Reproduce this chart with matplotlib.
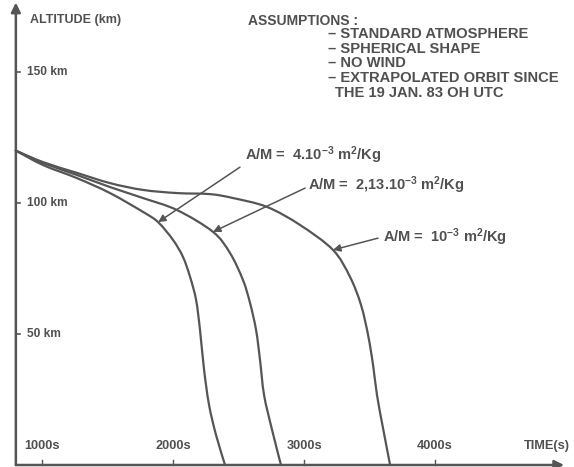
import matplotlib
matplotlib.use("Agg")
import numpy as np
import matplotlib.pyplot as plt
from matplotlib.path import Path
from matplotlib.patches import PathPatch

plt.rcParams['font.family'] = ['Liberation Sans', 'DejaVu Sans']
plt.rcParams['font.weight'] = 'bold'
plt.rcParams['mathtext.default'] = 'regular'

INK = '#555555'
TXT = '#505050'

# Décroissance d'altitude (km) en fonction du temps (s) pour trois rapports A/M
t_4e3 = [800, 1008, 1267, 1519, 1771, 1886, 2000, 2076, 2130, 2176, 2206, 2237, 2275,
         2328, 2397]
alt_4e3 = [120, 114.5, 109.5, 103.8, 96.6, 92.7, 85.9, 79.4, 71.8, 63.0, 51.5, 36.3, 22.9,
           11.5, 0]

t_213e3 = [800, 1008, 1267, 1519, 1771, 2031, 2305, 2435, 2534, 2588, 2634, 2664, 2695,
           2756, 2824]
alt_213e3 = [120, 115.3, 110.7, 106.1, 101.9, 97.3, 89.0, 80.9, 70.6, 61.8, 51.5, 40.1, 26.7,
             13.4, 0]

t_1e3 = [800, 1008, 1267, 1519, 1771, 2031, 2282, 2458, 2718, 2970, 3221, 3351, 3435,
         3489, 3527, 3557, 3603, 3657]
alt_1e3 = [120, 115.6, 111.5, 107.6, 105.0, 103.8, 103.4, 101.9, 98.5, 91.6, 82.1, 71.8, 61.1,
           49.6, 38.2, 26.7, 14.1, 0]

x_ticks = [1000, 2000, 3000, 4000]
x_labels = ['1000s', '2000s', '3000s', '4000s']
y_ticks = [50, 100, 150]
y_labels = ['50 km', '100 km', '150 km']

assumptions = ['– STANDARD ATMOSPHERE', '– SPHERICAL SHAPE', '– NO WIND',
               '– EXTRAPOLATED ORBIT SINCE']
assumptions_last = 'THE 19 JAN. 83 OH UTC'

# étiquettes : texte, position du texte, départ de la flèche, point visé sur la courbe
labels = [
    (r'A/M =  4.10$^{-3}$ m$^{2}$/Kg', (2550, 118.3), (2511, 113.7), (1886, 92.7)),
    (r'A/M =  2,13.10$^{-3}$ m$^{2}$/Kg', (3031, 106.9), (3008, 105.7), (2305, 89.0)),
    (r'A/M =  10$^{-3}$ m$^{2}$/Kg', (3603, 87.0), (3565, 86.6), (3221, 82.1)),
]


def smooth_path(xs, ys):
    # courbe de Catmull-Rom passant par les points, en segments de Bézier cubiques
    p = np.column_stack([xs, ys]).astype(float)
    n = len(p)
    verts = [p[0]]
    codes = [Path.MOVETO]
    for i in range(n - 1):
        p0 = p[i - 1] if i > 0 else p[i]
        p1, p2 = p[i], p[i + 1]
        p3 = p[i + 2] if i + 2 < n else p[i + 1]
        verts += [p1 + (p2 - p0) / 6, p2 - (p3 - p1) / 6, p2]
        codes += [Path.CURVE4] * 3
    return Path(verts, codes)


fig = plt.figure(figsize=(5.74, 4.67), dpi=100)
ax = fig.add_axes([0, 0, 1, 1])
ax.set_xlim(679, 5061)
ax.set_ylim(-0.76, 177.5)
ax.axis('off')

t0 = 800
# axes avec flèches
ax.annotate('', xy=(t0, 176.5), xytext=(t0, 0),
            arrowprops=dict(arrowstyle='-|>', color=INK, lw=1.8, mutation_scale=14,
                            shrinkA=0, shrinkB=0))
ax.annotate('', xy=(4985, 0), xytext=(t0, 0),
            arrowprops=dict(arrowstyle='-|>', color=INK, lw=1.8, mutation_scale=14,
                            shrinkA=0, shrinkB=0))

for v, lab in zip(y_ticks, y_labels):
    ax.plot([t0, t0 + 30], [v, v], color=INK, lw=1.2)
    ax.text(885, v, lab, color=TXT, fontsize=8.6, va='center', ha='left')
for v, lab in zip(x_ticks, x_labels):
    ax.plot([v, v], [0, 1.8], color=INK, lw=1.0)
    ax.text(v, 7.2, lab, color=TXT, fontsize=9.2, va='center', ha='center')

ax.text(908, 169.8, 'ALTITUDE (km)', color=TXT, fontsize=9, va='center', ha='left')
ax.text(4680, 7.2, 'TIME(s)', color=TXT, fontsize=9.2, va='center', ha='left')

ax.text(2573, 169.6, 'ASSUMPTIONS :', color=TXT, fontsize=10, va='center', ha='left')
for i, line in enumerate(assumptions):
    ax.text(3183, 164.6 - i * 5.65, line, color=TXT, fontsize=10.6, va='center', ha='left')
ax.text(3237, 164.6 - 4 * 5.65, assumptions_last, color=TXT, fontsize=10.6,
        va='center', ha='left')

for t, alt in [(t_4e3, alt_4e3), (t_213e3, alt_213e3), (t_1e3, alt_1e3)]:
    ax.add_patch(PathPatch(smooth_path(t, alt), facecolor='none', edgecolor=INK,
                           lw=1.6, capstyle='round', joinstyle='round'))

for txt, pos, tail, head in labels:
    ax.text(pos[0], pos[1], txt, color=TXT, fontsize=10.5, va='center', ha='left')
    ax.annotate('', xy=head, xytext=tail,
                arrowprops=dict(arrowstyle='-|>', color=INK, lw=1.1, mutation_scale=11,
                                shrinkA=0, shrinkB=0))

fig.savefig('out.png', dpi=100)
